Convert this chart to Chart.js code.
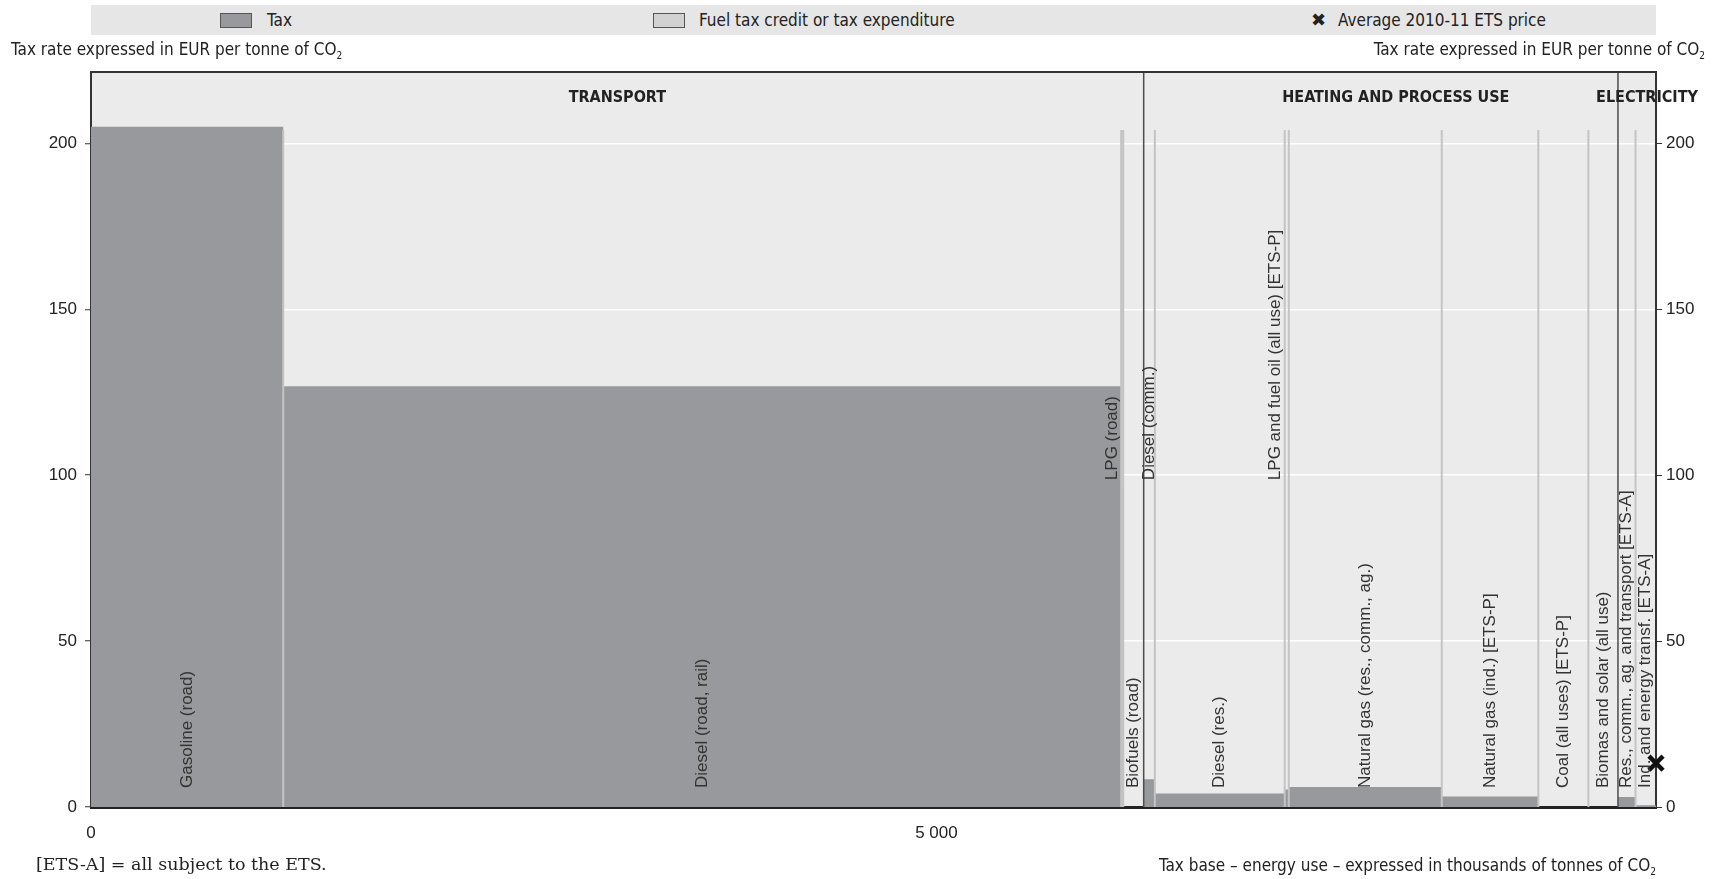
<!DOCTYPE html>
<html>
<head>
<meta charset="utf-8">
<script src="https://cdn.jsdelivr.net/npm/chart.js@4.4.1/dist/chart.umd.min.js"></script>
<style>
  html, body { margin: 0; padding: 0; background: #fff; }
  #wrap { position: relative; width: 1721px; height: 879px; overflow: hidden;
          font-family: "Liberation Sans Narrow", "DejaVu Sans Condensed", sans-serif; color: #222; }
  #grafica { position: absolute; left: 0; top: 0; }
  .legend { position: absolute; left: 91px; top: 5px; width: 1565px; height: 30px; background: #e6e6e6; }
  .item { position: absolute; top: 0; height: 30px; line-height: 30px; font-size: 17px; white-space: nowrap; }
  .box { position: absolute; top: 8px; width: 30px; height: 13px; border: 1px solid #555; }
  .note { position: absolute; font-size: 17px; white-space: nowrap; line-height: 20px; }
  sub { font-size: 10px; vertical-align: -4px; line-height: 0; }
</style>
</head>
<body>
<div id="wrap">
  <canvas id="grafica" width="1721" height="879"></canvas>
  <div class="legend">
    <div class="box" style="left:129px; background:#98999d;"></div>
    <div class="item" style="left:176px;">Tax</div>
    <div class="box" style="left:562px; background:#d2d2d2;"></div>
    <div class="item" style="left:608px;">Fuel tax credit or tax expenditure</div>
    <div class="item" style="left:1220px; font-family:'DejaVu Sans', sans-serif; font-size:18px;">&#10006;</div>
    <div class="item" style="left:1247px;">Average 2010-11 ETS price</div>
  </div>
  <div class="note" style="left:11px; top:39px;">Tax rate expressed in EUR per tonne of CO<sub>2</sub></div>
  <div class="note" style="right:16px; top:39px;">Tax rate expressed in EUR per tonne of CO<sub>2</sub></div>
  <div class="note" style="left:36px; top:854px; font-family:'DejaVu Serif', serif; font-size:17.5px;">[ETS-A] = all subject to the ETS.</div>
  <div class="note" style="right:65px; top:855px;">Tax base – energy use – expressed in thousands of tonnes of CO<sub>2</sub></div>
</div>
<script>
// data
const fuels = ['Gasoline (road)', 'Diesel (road, rail)', 'LPG (road)', 'Biofuels (road)',
  'Diesel (comm.)', 'Diesel (res.)', 'LPG and fuel oil (all use) [ETS-P]',
  'Natural gas (res., comm., ag.)', 'Natural gas (ind.) [ETS-P]', 'Coal (all uses) [ETS-P]',
  'Biomas and solar (all use)', 'Res., comm., ag. and transport [ETS-A]', 'Ind. and energy transf. [ETS-A]']
const energyUse = [1137, 4956, 12, 121, 66, 768, 24, 905, 571, 296, 175, 104, 121]
const taxRates = [205, 126.8, 97, 0, 8.4, 4.1, 5.3, 6.0, 3.2, 0, 0, 3.0, 0.5]
const sectors = ['TRANSPORT', 'HEATING AND PROCESS USE', 'ELECTRICITY']
const sectorSize = [4, 7, 2]
const etsPrice = 13.2
const xTicks = [0, 5000]
const yTicks = [0, 50, 100, 150, 200]
const yMax = 221.5

// narrow bars get their label lifted (and some moved left of the bar)
const labelPlace = {2: 'highLeft', 4: 'high', 6: 'highLeft'}
const headerShift = [0, 15, 10]
const sepTop = 204

const starts = []
let acc = 0
energyUse.forEach(w => { starts.push(acc); acc += w })
const total = acc

const sectorStart = [], sectorEnd = []
let k = 0
sectorSize.forEach(n => {
  sectorStart.push(starts[k])
  sectorEnd.push(starts[k + n - 1] + energyUse[k + n - 1])
  k += n
})

const taxPoints = fuels.map((f, i) => ({x: starts[i], y: taxRates[i]}))
taxPoints.push({x: total, y: taxRates[taxRates.length - 1]})

const sepPoints = []
starts.slice(1).forEach(b => {
  if (sectorStart.includes(b)) return
  sepPoints.push({x: b, y: 0}, {x: b, y: sepTop}, {x: b, y: null})
})

const sectorPoints = []
sectorStart.slice(1).forEach(b => {
  sectorPoints.push({x: b, y: 0}, {x: b, y: yMax}, {x: b, y: null})
})

const narrow = '"Liberation Sans Narrow", "DejaVu Sans Condensed", sans-serif'

const plotBg = {
  id: 'plotBg',
  beforeDraw(chart) {
    const {ctx, chartArea: a} = chart
    ctx.save()
    ctx.fillStyle = '#ebebeb'
    ctx.fillRect(a.left, a.top, a.right - a.left, a.bottom - a.top)
    ctx.restore()
  }
}

const fuelLabels = {
  id: 'fuelLabels',
  afterDatasetsDraw(chart) {
    const {ctx, chartArea: a, scales} = chart
    const xs = scales.x, ys = scales.y
    ctx.save()
    // top frame line
    ctx.strokeStyle = '#333'
    ctx.lineWidth = 2
    ctx.beginPath()
    ctx.moveTo(a.left, a.top)
    ctx.lineTo(a.right, a.top)
    ctx.stroke()

    // sector headers
    ctx.fillStyle = '#222'
    ctx.font = 'bold 16px ' + narrow
    ctx.textAlign = 'center'
    ctx.textBaseline = 'middle'
    sectors.forEach((s, j) => {
      const cx = (xs.getPixelForValue(sectorStart[j]) + xs.getPixelForValue(sectorEnd[j])) / 2
      ctx.fillText(s, cx + headerShift[j], a.top + 26)
    })

    // fuel labels, rotated
    ctx.font = '17px "Liberation Sans", Arial, sans-serif'
    ctx.fillStyle = '#333'
    ctx.textAlign = 'left'
    fuels.forEach((f, i) => {
      const p = labelPlace[i] || 'center'
      let px = (xs.getPixelForValue(starts[i]) + xs.getPixelForValue(starts[i] + energyUse[i])) / 2
      let py = a.bottom - 19
      if (p !== 'center') py = ys.getPixelForValue(98.5)
      if (p === 'highLeft') px = xs.getPixelForValue(starts[i]) - 9
      ctx.save()
      ctx.translate(px, py)
      ctx.rotate(-Math.PI / 2)
      ctx.fillText(f, 0, 0)
      ctx.restore()
    })
    ctx.restore()
  }
}

const setTicks = list => scale => { scale.ticks = list.map(v => ({value: v})) }

const graph = document.querySelector('#grafica')

new Chart(graph, {
  type: 'line',
  data: {
    datasets: [
      {
        label: 'Average 2010-11 ETS price',
        type: 'scatter',
        data: [{x: total, y: etsPrice}],
        pointStyle: 'crossRot',
        pointRadius: 10,
        borderWidth: 4.5,
        borderColor: '#111',
        backgroundColor: '#111',
        clip: false,
        order: 0
      },
      {
        label: 'sectors',
        data: sectorPoints,
        borderColor: '#4d4d4d',
        borderWidth: 1.5,
        pointRadius: 0,
        spanGaps: false,
        order: 1
      },
      {
        label: 'separators',
        data: sepPoints,
        borderColor: '#c4c4c4',
        borderWidth: 2,
        pointRadius: 0,
        spanGaps: false,
        order: 2
      },
      {
        label: 'Tax',
        data: taxPoints,
        stepped: true,
        fill: 'origin',
        backgroundColor: '#98999d',
        borderWidth: 0,
        pointRadius: 0,
        order: 3
      }
    ]
  },
  options: {
    responsive: false,
    animation: false,
    events: [],
    layout: {padding: {top: 72, left: 0, right: 0, bottom: 0}},
    plugins: {legend: {display: false}, tooltip: {enabled: false}},
    scales: {
      x: {
        type: 'linear',
        min: 0,
        max: total,
        afterBuildTicks: setTicks(xTicks),
        afterFit: s => { s.height = 72 },
        grid: {display: false},
        border: {display: true, color: '#222', width: 3},
        ticks: {
          padding: 8,
          color: '#222',
          font: {family: '"Liberation Sans", Arial, sans-serif', size: 17},
          callback: v => String(v).replace(/\B(?=(\d{3})+(?!\d))/g, ' ')
        }
      },
      y: {
        position: 'left',
        min: 0,
        max: yMax,
        afterBuildTicks: setTicks(yTicks),
        afterFit: s => { s.width = 91 },
        grid: {color: '#ffffff', lineWidth: 1.5, tickColor: '#333', tickLength: 6, tickWidth: 1},
        border: {display: true, color: '#333', width: 2},
        ticks: {padding: 8, color: '#222', font: {family: '"Liberation Sans", Arial, sans-serif', size: 17}}
      },
      y2: {
        position: 'right',
        min: 0,
        max: yMax,
        afterBuildTicks: setTicks(yTicks),
        afterFit: s => { s.width = 65 },
        grid: {drawOnChartArea: false, tickColor: '#333', tickLength: 6, tickWidth: 1},
        border: {display: true, color: '#333', width: 2},
        ticks: {padding: 4, color: '#222', font: {family: '"Liberation Sans", Arial, sans-serif', size: 17}}
      }
    }
  },
  plugins: [plotBg, fuelLabels]
})
</script>
</body>
</html>
